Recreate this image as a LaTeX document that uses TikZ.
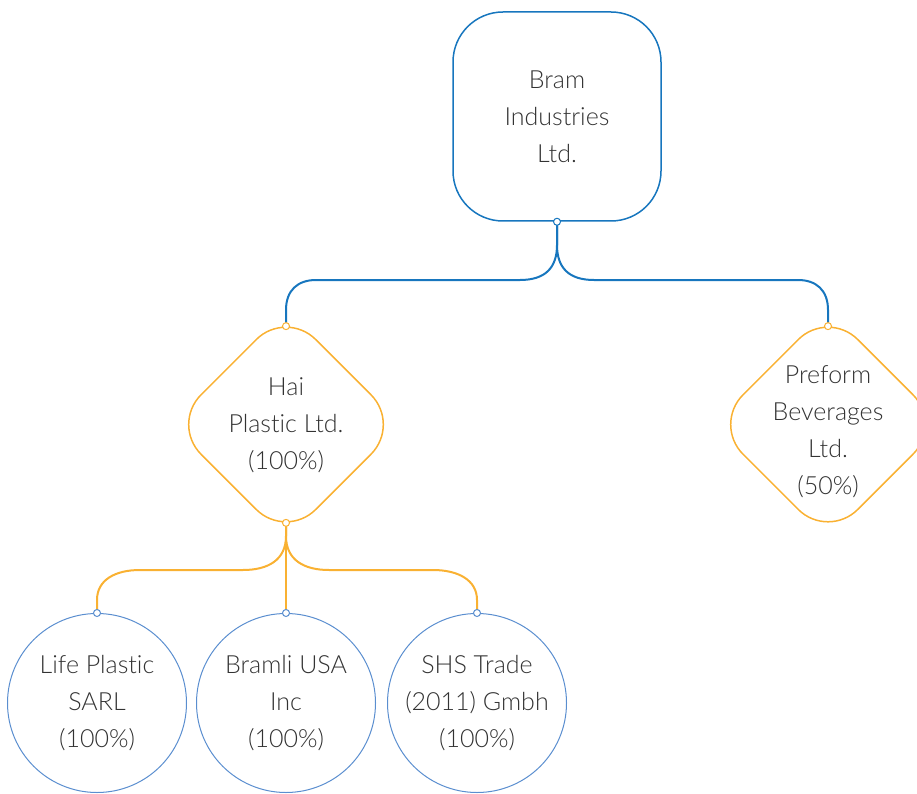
\documentclass[tikz,border=0pt]{standalone}
\usepackage{fontspec}
\IfFontExistsTF{Lato Light}{\setmainfont{Lato Light}[Ligatures=NoCommon]}{\setmainfont{Lato}[Ligatures=NoCommon]}
\usetikzlibrary{shapes.geometric}
\definecolor{cblue}{HTML}{1776BE}
\definecolor{corange}{HTML}{F9B132}
\definecolor{ccirc}{HTML}{5A8ECF}
\definecolor{ctext}{HTML}{333333}
\begin{document}
\begin{tikzpicture}[x=1pt,y=-1pt,
 txt/.style={text=ctext, align=center, font=\fontsize{25}{37}\selectfont},
 topbox/.style={draw=cblue, line width=1.5pt, rounded corners=50pt, minimum width=208pt, minimum height=209pt, inner sep=0pt},
 diam/.style={diamond, draw=corange, line width=1.5pt, rounded corners=42pt, minimum width=230pt, minimum height=230pt, inner sep=0pt},
 circ/.style={circle, draw=ccirc, line width=1pt, minimum size=179pt, inner sep=0pt},
 bline/.style={draw=cblue, line width=2pt},
 oline/.style={draw=corange, line width=2pt},
 dot/.style={circle, fill=white, line width=1pt, minimum size=7pt, inner sep=0pt},
]
\useasboundingbox (0,0) rectangle (917,794);

% nodes
\node[topbox, txt] (bram) at (557,116.5) {Bram\\Industries\\Ltd.};
\node[diam] (hai) at (286,424.5) {};
\node[txt] (haitxt) at ([yshift=-1pt]hai.center) {Hai\\Plastic Ltd.\\(100\%)};
\node[diam] (pre) at (828,424.5) {};
\node[txt] (pretxt) at ([yshift=-7pt]pre.center) {Preform\\Beverages\\Ltd.\\(50\%)};
\node[circ, txt] (life) at (97,703) {Life Plastic\\SARL\\(100\%)};
\node[circ, txt] (bramli) at (286,703) {Bramli USA\\Inc\\(100\%)};
\node[circ, txt] (shs) at (477,703) {SHS Trade\\(2011) Gmbh\\(100\%)};

\coordinate (haiT) at ([yshift=-17.4pt]hai.north);
\coordinate (haiB) at ([yshift=17.4pt]hai.south);
\coordinate (preT) at ([yshift=-17.4pt]pre.north);

% connectors
\draw[bline] (bram.south) -- (557,245) .. controls (557,268) and (545,280) .. (520,280) -- (316,280) .. controls (298,280) and (286,290) .. (286,310) -- (haiT);
\draw[bline] (bram.south) -- (557,245) .. controls (557,268) and (569,280) .. (594,280) -- (798,280) .. controls (816,280) and (828,290) .. (828,310) -- (preT);
\draw[oline] (haiB) -- (bramli.north);
\draw[oline] (haiB) -- (286,536) .. controls (286,560) and (268,570) .. (243,570) -- (140,570) .. controls (115,570) and (97,580) .. (97,600) -- (life.north);
\draw[oline] (haiB) -- (286,536) .. controls (286,560) and (304,570) .. (329,570) -- (433,570) .. controls (458,570) and (477,580) .. (477,600) -- (shs.north);

% connection dots
\node[dot, draw=cblue] at (bram.south) {};
\node[dot, draw=corange] at (haiT) {};
\node[dot, draw=corange] at (haiB) {};
\node[dot, draw=corange] at (preT) {};
\node[dot, draw=ccirc] at (life.north) {};
\node[dot, draw=ccirc] at (bramli.north) {};
\node[dot, draw=ccirc] at (shs.north) {};
\end{tikzpicture}
\end{document}
